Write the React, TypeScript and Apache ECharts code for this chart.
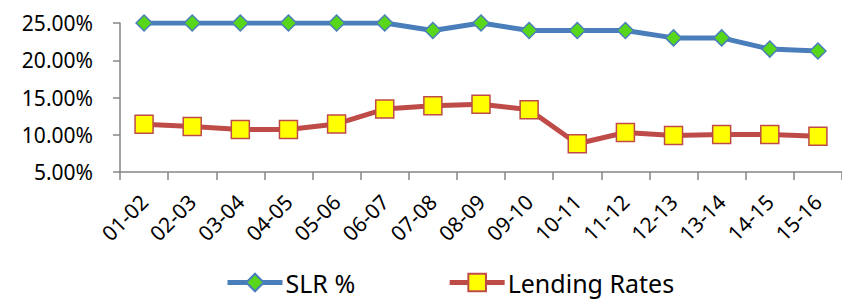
import React, { useEffect, useRef } from "react";
import * as echarts from "echarts";

const categories = ["01-02", "02-03", "03-04", "04-05", "05-06", "06-07", "07-08", "08-09", "09-10", "10-11", "11-12", "12-13", "13-14", "14-15", "15-16"];
const slrValues = [25, 25, 25, 25, 25, 25, 24, 25, 24, 24, 24, 23, 23, 21.5, 21.25];
const lendingValues = [11.4, 11.1, 10.7, 10.7, 11.45, 13.45, 13.9, 14.1, 13.35, 8.8, 10.3, 9.9, 10.05, 10.05, 9.8];
const yTicks = { min: 5, max: 25, interval: 5 };

const FONT = "Noto Sans";

export default function App() {
  const ref = useRef<HTMLDivElement>(null);
  useEffect(() => {
    if (!ref.current) return;
    const chart = echarts.init(ref.current, null, { renderer: "svg" });
    chart.setOption({
      animation: false,
      backgroundColor: "#ffffff",
      textStyle: { fontFamily: FONT },
      grid: { left: 120, top: 23, height: 149, width: 727, containLabel: false },
      legend: {
        left: 225,
        top: 270,
        padding: 0,
        itemWidth: 55,
        itemHeight: 22,
        itemGap: 92,
        lineStyle: { width: 5 },
        textStyle: { fontSize: 25, lineHeight: 22, color: "#000", fontFamily: FONT, padding: [0, 0, 0, -2] },
        data: ["SLR %", "Lending Rates"],
      },
      xAxis: {
        type: "category",
        data: categories,
        boundaryGap: true,
        axisLine: { lineStyle: { color: "#868686", width: 1.5 } },
        axisTick: { show: true, length: 8, lineStyle: { color: "#868686", width: 1.5 } },
        axisLabel: { rotate: 45, fontSize: 21, color: "#000", margin: 26, fontFamily: FONT },
      },
      yAxis: {
        type: "value",
        min: yTicks.min,
        max: yTicks.max,
        interval: yTicks.interval,
        splitLine: { show: false },
        axisLine: { show: true, lineStyle: { color: "#868686", width: 1.5 } },
        axisTick: { show: true, length: 7, lineStyle: { color: "#868686", width: 1.5 } },
        axisLabel: {
          fontSize: 21,
          color: "#000",
          margin: 27,
          fontFamily: FONT,
          formatter: (v: number) => v.toFixed(2) + "%",
        },
      },
      series: [
        {
          name: "SLR %",
          type: "line",
          data: slrValues,
          symbol: "diamond",
          symbolSize: 16,
          lineStyle: { color: "#4A7EBB", width: 5 },
          itemStyle: { color: "#58D61A", borderColor: "#4A7EBB", borderWidth: 1.5 },
        },
        {
          name: "Lending Rates",
          type: "line",
          data: lendingValues,
          symbol: "rect",
          symbolSize: 18,
          lineStyle: { color: "#BE4B48", width: 5 },
          itemStyle: { color: "#FFFF00", borderColor: "#BE4B48", borderWidth: 1.5 },
        },
      ],
    });
    return () => chart.dispose();
  }, []);
  return <div ref={ref} style={{ position: "absolute", left: 0, top: 0, width: 842, height: 301 }} />;
}
